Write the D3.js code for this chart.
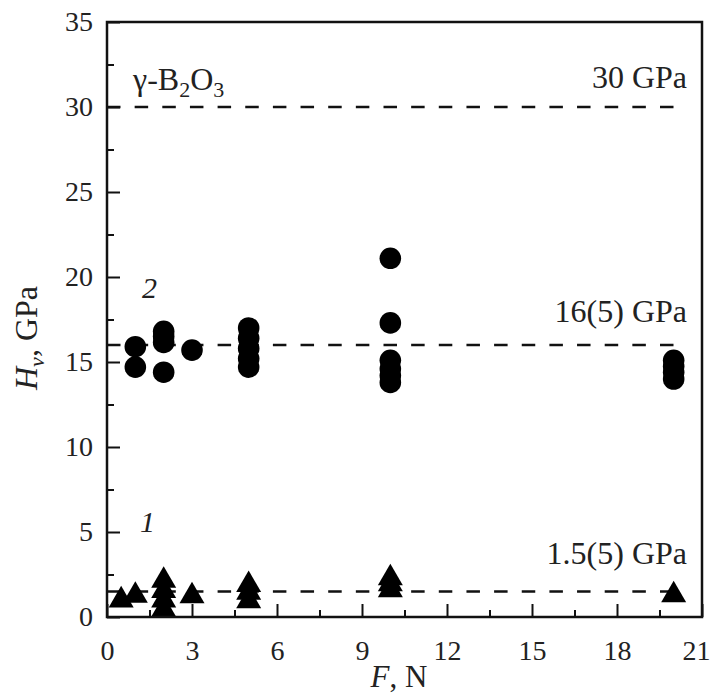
<!DOCTYPE html>
<html>
<head>
<meta charset="utf-8">
<script src="https://cdn.jsdelivr.net/npm/d3@7"></script>
<style>
  body { margin: 0; background: #fff; }
  text { font-family: "Liberation Serif", "Times New Roman", serif; fill: #222; }
</style>
</head>
<body>
<div id="chart"></div>
<script>
// series 2 (circles): load F (N) and hardness Hv (GPa)
const circleF = [1, 1, 2, 2, 2, 2, 3, 5, 5, 5, 5, 5, 10, 10, 10, 10, 10, 10, 20, 20, 20, 20];
const circleH = [15.9, 14.7, 16.8, 16.5, 16.15, 14.4, 15.7, 17.0, 16.4, 15.8, 15.2, 14.7,
                 21.1, 17.3, 15.1, 14.6, 14.2, 13.8, 15.1, 14.75, 14.4, 14.0];
// series 1 (triangles)
const triF = [0.5, 1, 2, 2, 2, 2, 3, 5, 5, 5, 10, 10, 10, 20];
const triH = [1.2, 1.47, 2.35, 1.75, 1.2, 0.65, 1.44, 2.1, 1.65, 1.15, 2.5, 2.15, 1.8, 1.5];

// reference levels (dashed)
const refLevels = [30, 16, 1.5];
const refLabels = ["30 GPa", "16(5) GPa", "1.5(5) GPa"];
const refEnd = 20.1;

const xTicks = [0, 3, 6, 9, 12, 15, 18, 21];
const yTicks = [0, 5, 10, 15, 20, 25, 30, 35];

const width = 712, height = 695;

const svg = d3.select("#chart")
  .append("svg")
  .attr("width", width)
  .attr("height", height);

const x = d3.scaleLinear().domain([0, 21]).range([107, 702]);
const y = d3.scaleLinear().domain([0, 35]).range([617, 22]);

// dashed reference lines
svg.selectAll("line.ref")
  .data(refLevels)
  .join("line")
  .attr("class", "ref")
  .attr("x1", x(0))
  .attr("x2", x(refEnd))
  .attr("y1", d => y(d))
  .attr("y2", d => y(d))
  .attr("stroke", "#111")
  .attr("stroke-width", 2.5)
  .attr("stroke-dasharray", "13.5,14.15");

const labelDy = [-19, -23, -28];
svg.selectAll("text.reflabel")
  .data(refLevels)
  .join("text")
  .attr("class", "reflabel")
  .attr("x", 687)
  .attr("y", (d, i) => y(d) + labelDy[i])
  .attr("text-anchor", "end")
  .style("font-size", "32px")
  .text((d, i) => refLabels[i]);

// gamma-B2O3 label
const gb = svg.append("text")
  .attr("x", 133)
  .attr("y", 90)
  .style("font-size", "32px");
gb.append("tspan").text("γ-B");
gb.append("tspan").attr("dy", 7).style("font-size", "22px").text("2");
gb.append("tspan").attr("dy", -7).text("O");
gb.append("tspan").attr("dy", 7).style("font-size", "22px").text("3");

// series number labels
svg.append("text").attr("x", 142).attr("y", 298)
  .style("font-size", "30px").style("font-style", "italic").text("2");
svg.append("text").attr("x", 140).attr("y", 532)
  .style("font-size", "30px").style("font-style", "italic").text("1");

// markers
const circles = circleF.map((f, i) => ({ f: f, h: circleH[i] }));
const tris = triF.map((f, i) => ({ f: f, h: triH[i] }));

svg.selectAll("circle.pt")
  .data(circles)
  .join("circle")
  .attr("class", "pt")
  .attr("cx", d => x(d.f))
  .attr("cy", d => y(d.h))
  .attr("r", 10.8)
  .attr("fill", "#000");

svg.selectAll("path.tri")
  .data(tris)
  .join("path")
  .attr("class", "tri")
  .attr("transform", d => `translate(${x(d.f)},${y(d.h)})`)
  .attr("d", "M0,-10.8L12.5,10.8L-12.5,10.8Z")
  .attr("fill", "#000");

// axes
const xAxis = svg.append("g")
  .attr("transform", `translate(0,${y(0)})`)
  .call(d3.axisBottom(x).tickValues(xTicks).tickSize(-13).tickSizeOuter(0).tickPadding(23)
    .tickFormat(d3.format("d")));
const xMinor = svg.append("g")
  .attr("transform", `translate(0,${y(0)})`)
  .call(d3.axisBottom(x).tickValues(d3.range(1.5, 21, 3)).tickSize(-7).tickSizeOuter(0).tickFormat(""));

const yAxis = svg.append("g")
  .attr("transform", `translate(${x(0)},0)`)
  .call(d3.axisLeft(y).tickValues(yTicks).tickSize(-13).tickSizeOuter(0).tickPadding(14)
    .tickFormat(d3.format("d")));
const yMinor = svg.append("g")
  .attr("transform", `translate(${x(0)},0)`)
  .call(d3.axisLeft(y).tickValues(d3.range(2.5, 35, 5)).tickSize(-7).tickSizeOuter(0).tickFormat(""));

[xAxis, xMinor, yAxis, yMinor].forEach(g => {
  g.select(".domain").remove();
  g.selectAll("line").attr("stroke", "#111").attr("stroke-width", 2);
  g.selectAll("text")
    .style("font-size", "28px")
    .style("font-family", '"Liberation Serif", "Times New Roman", serif')
    .attr("fill", "#222");
});
// keep the last x label inside the page
xAxis.selectAll(".tick text").filter(d => d === 21).attr("dx", -6);

// frame
svg.append("rect")
  .attr("x", x(0))
  .attr("y", y(35))
  .attr("width", x(21) - x(0))
  .attr("height", y(0) - y(35))
  .attr("fill", "none")
  .attr("stroke", "#111")
  .attr("stroke-width", 2.5);

// axis titles
const xt = svg.append("text")
  .attr("x", 399)
  .attr("y", 687)
  .attr("text-anchor", "middle")
  .style("font-size", "31px");
xt.append("tspan").style("font-style", "italic").text("F");
xt.append("tspan").text(", N");

const yt = svg.append("text")
  .attr("transform", "translate(37,338) rotate(-90)")
  .attr("text-anchor", "middle")
  .style("font-size", "32px");
yt.append("tspan").style("font-style", "italic").text("H");
yt.append("tspan").attr("dy", 7).style("font-style", "italic").style("font-size", "22px").text("ν");
yt.append("tspan").attr("dy", -7).text(", GPa");
</script>
</body>
</html>
